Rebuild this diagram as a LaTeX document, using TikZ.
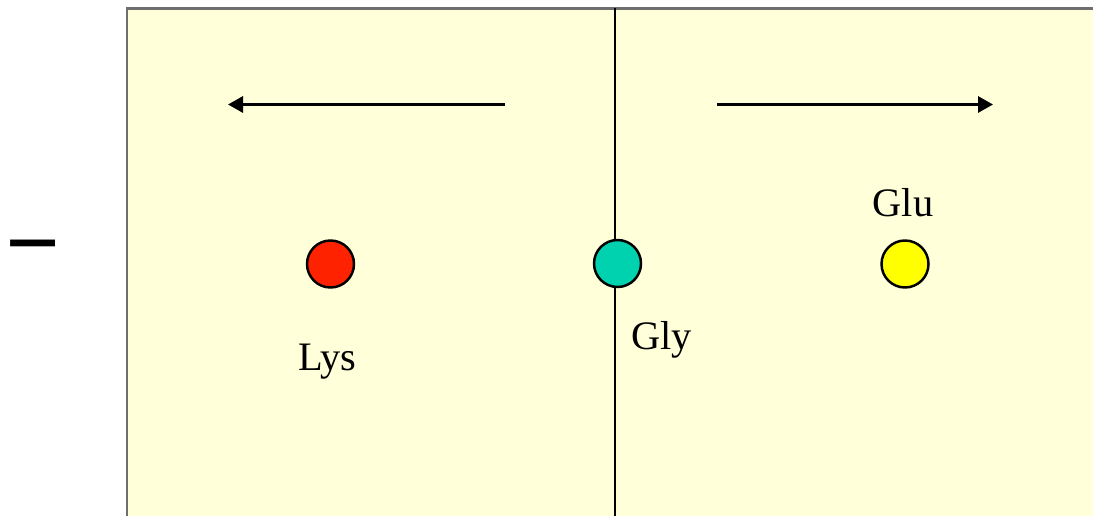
\documentclass[tikz,border=0pt]{standalone}
\usepackage{fontspec}
\setmainfont{Liberation Serif}
\usepackage{xcolor}
\usepackage{tikz}
\usetikzlibrary{arrows.meta, positioning}
\definecolor{paleyellow}{RGB}{255,255,217}
\definecolor{lysred}{RGB}{255,34,0}
\definecolor{glyteal}{RGB}{0,209,174}
\definecolor{gluyellow}{RGB}{255,255,0}
\definecolor{framegray}{RGB}{110,110,110}

\begin{document}
\begin{tikzpicture}[
  >={Triangle[length=0.3cm, width=0.32cm]},
  every node/.style={font=\fontsize{23}{27}\selectfont},
  acid/.style={circle, draw=black, line width=1.4pt, minimum size=0.94cm, inner sep=0pt},
  lbl/.style={anchor=base, inner sep=0pt},
  flow/.style={->, line width=1.7pt, black}
]
\path[use as bounding box, clip] (0,0) rectangle (21.86,10.30);
% gel strip and the line of application
\draw[framegray, line width=1.2pt, fill=paleyellow] (2.54,-0.5) rectangle (22.5,10.13);
\draw[black, line width=1.1pt] (12.30,-0.5) -- (12.30,10.13);
\node[inner sep=0pt, anchor=north, font=\fontsize{55}{60}\selectfont\bfseries] (minus) at (0.66,5.50) {−};
% direction of migration
\coordinate (wl0) at (10.10,8.21);
\coordinate (wl1) at (4.56,8.21);
\coordinate (wr0) at (14.34,8.21);
\coordinate (wr1) at (19.86,8.21);
\draw[flow] (wl0) -- (wl1);
\draw[flow] (wr0) -- (wr1);
% amino acids
\node[acid, fill=lysred]    (lys) at (6.61,5.02) {};
\node[acid, fill=glyteal]   (gly) at (12.35,5.03) {};
\node[acid, fill=gluyellow] (glu) at (18.10,5.02) {};
\node[lbl] (lyslbl) at (6.55,2.90) {Lys};
\node[lbl] (glylbl) at (13.23,3.31) {Gly};
\node[lbl] (glulbl) at (18.06,5.97) {Glu};
\end{tikzpicture}
\end{document}
